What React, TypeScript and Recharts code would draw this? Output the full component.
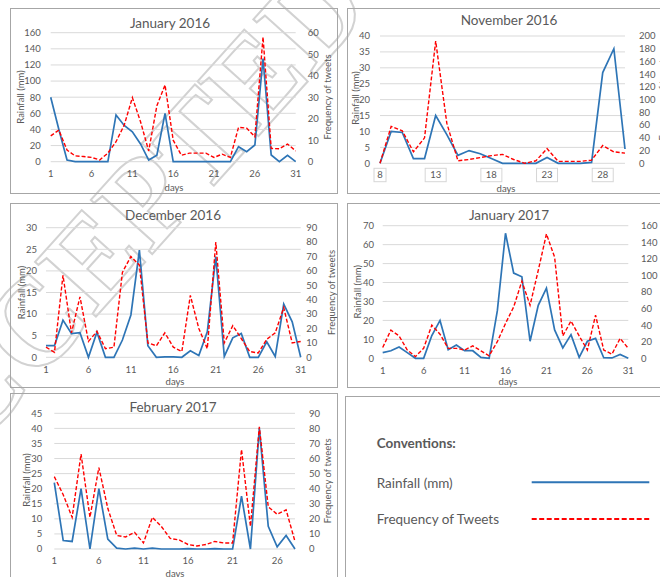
import React from 'react'
import { LineChart, Line, XAxis, YAxis, CartesianGrid } from 'recharts'

const FONT = 'Lato, "Open Sans", "DejaVu Sans", sans-serif'
const TEXT = '#595959'
const GRID = '#d9d9d9'
const BORDER = '#a6a6a6'
const BLUE = '#2e75b6'
const RED = '#ff0000'

// day numbers used as the x categories
const dayRange = (from: number, to: number) =>
  Array.from({ length: to - from + 1 }, (_, i) => from + i)

// January 2016
const jan16Days = dayRange(1, 31)
const jan16Rain = [80, 40, 2, 0, 0, 0, 0, 0, 58, 45, 37, 22, 2, 8, 60, 0, 0, 0, 0, 0, 0, 0, 0, 18.6, 12.4, 20.7, 128, 8.3, 0, 8, 0]
const jan16Tweets = [12, 14.7, 5.4, 2.7, 2.4, 2, 0.8, 4, 9.3, 17, 29.8, 18.6, 5, 26, 35.7, 10, 3, 4, 4, 4, 2, 3.5, 2, 16, 15.6, 11.6, 58, 6.2, 6, 8.2, 5]

// November 2016 (days 8 - 30)
const nov16Days = dayRange(8, 30)
const nov16Rain = [0, 10, 9.7, 1.5, 1.5, 15, 9, 2.5, 4, 3, 1.5, 0, 0, 0, 0, 1.8, 0, 0, 0, 0.3, 28.5, 36, 4.5]
const nov16Tweets = [0, 58, 51, 18, 40, 192, 63, 4, 6, 9, 12, 14, 6, 0, 4, 23, 3, 3, 3, 5, 28, 18, 16]

// December 2016
const dec16Days = dayRange(1, 31)
const dec16Rain = [2.7, 2.7, 8.6, 5.5, 5.7, 0, 5.8, 0, 0, 4, 9.8, 24.8, 2.7, 0, 0.1, 0.1, 0, 1.5, 0.4, 5.9, 23.3, 0.2, 4.5, 5.5, 0, 0, 3.6, 0.2, 12.3, 8.2, 0]
const dec16Tweets = [7, 3.5, 57, 17, 42, 11, 18, 6, 7, 59, 70, 64, 10, 8, 17, 7, 4, 43, 20, 6, 80, 10, 22, 13, 4, 3, 12.5, 17, 34.5, 10, 11]

// January 2017
const jan17Days = dayRange(1, 31)
const jan17Rain = [3, 4, 6, 3, 0, 0, 12, 20, 4.5, 7, 4, 4, 0.5, 0, 25, 66, 45, 43, 9, 28, 37, 15, 5.5, 12.5, 0.5, 9, 10.5, 0.3, 0.2, 2, 0]
const jan17Tweets = [13, 34, 27, 10, 2, 12, 40, 29, 12, 12, 10, 15, 9, 3, 20, 42, 62, 93, 64, 106, 150, 122, 27, 45, 27, 10, 52, 10, 5, 24, 12]

// February 2017
const feb17Days = dayRange(1, 28)
const feb17Rain = [22, 2.8, 2.5, 20, 0, 20, 3.3, 0.3, 0, 0.3, 0, 0.3, 0, 0, 0, 0.1, 0, 0, 0.1, 0, 0, 17.5, 0, 40, 7.5, 0.7, 4.5, 0]
const feb17Tweets = [48, 36, 21, 63, 21, 54, 27, 9, 8, 11, 4, 21, 15, 7, 6, 3, 2, 3, 5, 4, 4, 66, 15, 81, 28, 23, 26, 5]

// axis ticks
const monthTicks = [1, 6, 11, 16, 21, 26, 31]
const novTicks = [8, 13, 18, 23, 28]
const febTicks = [1, 6, 11, 16, 21, 26]
const jan16RainTicks = [0, 20, 40, 60, 80, 100, 120, 140, 160]
const jan16TweetTicks = [0, 10, 20, 30, 40, 50, 60]
const nov16RainTicks = [0, 5, 10, 15, 20, 25, 30, 35, 40]
const nov16TweetTicks = [0, 20, 40, 60, 80, 100, 120, 140, 160, 180, 200]
const dec16RainTicks = [0, 5, 10, 15, 20, 25, 30]
const dec16TweetTicks = [0, 10, 20, 30, 40, 50, 60, 70, 80, 90]
const jan17RainTicks = [0, 10, 20, 30, 40, 50, 60, 70]
const jan17TweetTicks = [0, 20, 40, 60, 80, 100, 120, 140, 160]
const feb17RainTicks = [0, 5, 10, 15, 20, 25, 30, 35, 40, 45]
const feb17TweetTicks = [0, 10, 20, 30, 40, 50, 60, 70, 80, 90]

type Box = { x: number; y: number; w: number; h: number }
type Plot = { left: number; right: number; top: number; bottom: number }
type Pt = [number, number]

interface PanelProps {
  title: string
  days: number[]
  rain: number[]
  tweets: number[]
  xTicks: number[]
  rainTicks: number[]
  tweetTicks: number[]
  box: Box
  plot: Plot
  gaps: { left: number; right: number; x: number }
  titleAt: Pt
  leftLabelAt: Pt
  rightLabelAt?: Pt
  daysAt: Pt
  boxedTicks?: boolean
}

const tickStyle = { fill: TEXT, fontSize: 9.5, fontFamily: FONT }

// Nov 2016 has its day labels drawn inside little frames
const BoxedTick = ({ x, y, payload }: any) => {
  const label = String(payload.value)
  const w = label.length * 9 + 3
  return (
    <g>
      <rect x={x - w / 2} y={y - 3.2} width={w} height={13.4} fill="none" stroke="#d6d6d6" />
      <text x={x} y={y} dy="0.71em" textAnchor="middle" {...tickStyle}>
        {label}
      </text>
    </g>
  )
}

function Panel(p: PanelProps) {
  const data = p.days.map((d, i) => ({ day: d, rain: p.rain[i], tweets: p.tweets[i] }))
  const { box, plot } = p
  const last = p.rainTicks[p.rainTicks.length - 1]
  const lastT = p.tweetTicks[p.tweetTicks.length - 1]
  return (
    <div
      style={{
        position: 'absolute',
        left: box.x,
        top: box.y,
        width: box.w,
        height: box.h,
        border: `1px solid ${BORDER}`,
        boxSizing: 'border-box',
      }}
    >
      <div style={{ position: 'absolute', left: -1, top: -1 }}>
        <LineChart
          width={box.w}
          height={box.h}
          data={data}
          margin={{ top: plot.top - box.y, right: 0, bottom: 0, left: 0 }}
        >
          <CartesianGrid vertical={false} stroke={GRID} />
          <XAxis
            dataKey="day"
            type="number"
            domain={[p.days[0], p.days[p.days.length - 1]]}
            ticks={p.xTicks}
            interval={0}
            height={box.y + box.h - plot.bottom}
            axisLine={false}
            tickLine={false}
            tickSize={0}
            tickMargin={p.gaps.x}
            tick={p.boxedTicks ? <BoxedTick /> : tickStyle}
          />
          <YAxis
            domain={[0, last]}
            ticks={p.rainTicks}
            interval={0}
            width={plot.left - box.x}
            axisLine={false}
            tickLine={false}
            tickSize={0}
            tickMargin={p.gaps.left}
            tick={tickStyle}
          />
          <YAxis
            yAxisId="r"
            orientation="right"
            domain={[0, lastT]}
            ticks={p.tweetTicks}
            interval={0}
            width={box.x + box.w - plot.right}
            axisLine={false}
            tickLine={false}
            tickSize={0}
            tickMargin={p.gaps.right}
            tick={{ ...tickStyle, textAnchor: 'start' }}
          />
          <Line
            dataKey="rain"
            stroke={BLUE}
            strokeWidth={1.7}
            dot={false}
            isAnimationActive={false}
          />
          <Line
            dataKey="tweets"
            yAxisId="r"
            stroke={RED}
            strokeWidth={1.4}
            strokeDasharray="4 2"
            dot={false}
            isAnimationActive={false}
          />
        </LineChart>
      </div>
    </div>
  )
}

function PanelText(p: PanelProps) {
  const axisText = { fill: TEXT, fontSize: 9.5, fontFamily: FONT, textAnchor: 'middle' as const, dominantBaseline: 'central' as const }
  return (
    <g>
      <text x={p.titleAt[0]} y={p.titleAt[1]} fontSize={13.5} fill={TEXT} fontFamily={FONT} textAnchor="middle" dominantBaseline="central">
        {p.title}
      </text>
      <text x={p.leftLabelAt[0]} y={p.leftLabelAt[1]} transform={`rotate(-90 ${p.leftLabelAt[0]} ${p.leftLabelAt[1]})`} {...axisText}>
        Rainfall (mm)
      </text>
      {p.rightLabelAt && (
        <text x={p.rightLabelAt[0]} y={p.rightLabelAt[1]} transform={`rotate(-90 ${p.rightLabelAt[0]} ${p.rightLabelAt[1]})`} {...axisText}>
          Frequency of tweets
        </text>
      )}
      <text x={p.daysAt[0]} y={p.daysAt[1]} {...axisText}>
        days
      </text>
    </g>
  )
}

const panels: PanelProps[] = [
  {
    title: 'January 2016',
    days: jan16Days,
    rain: jan16Rain,
    tweets: jan16Tweets,
    xTicks: monthTicks,
    rainTicks: jan16RainTicks,
    tweetTicks: jan16TweetTicks,
    box: { x: 10, y: 8, w: 328, h: 186 },
    plot: { left: 50.7, right: 295.7, top: 32.7, bottom: 161.7 },
    gaps: { left: 10, right: 12, x: 8.8 },
    titleAt: [170, 22.7],
    leftLabelAt: [20, 97],
    rightLabelAt: [327, 97],
    daysAt: [174, 187.5],
  },
  {
    title: 'November 2016',
    days: nov16Days,
    rain: nov16Rain,
    tweets: nov16Tweets,
    xTicks: novTicks,
    rainTicks: nov16RainTicks,
    tweetTicks: nov16TweetTicks,
    box: { x: 347, y: 8, w: 340, h: 186 },
    plot: { left: 380, right: 625, top: 36, bottom: 163.3 },
    gaps: { left: 10, right: 14, x: 8.2 },
    titleAt: [509, 20],
    leftLabelAt: [355.7, 98],
    rightLabelAt: [662, 98],
    daysAt: [506, 188],
    boxedTicks: true,
  },
  {
    title: 'December 2016',
    days: dec16Days,
    rain: dec16Rain,
    tweets: dec16Tweets,
    xTicks: monthTicks,
    rainTicks: dec16RainTicks,
    tweetTicks: dec16TweetTicks,
    box: { x: 10, y: 203, w: 328, h: 185 },
    plot: { left: 46, right: 300.7, top: 227.7, bottom: 357.3 },
    gaps: { left: 9, right: 5.5, x: 9.4 },
    titleAt: [173, 215],
    leftLabelAt: [21.7, 292.5],
    rightLabelAt: [331, 292.5],
    daysAt: [175, 381.5],
  },
  {
    title: 'January 2017',
    days: jan17Days,
    rain: jan17Rain,
    tweets: jan17Tweets,
    xTicks: monthTicks,
    rainTicks: jan17RainTicks,
    tweetTicks: jan17TweetTicks,
    box: { x: 347, y: 203, w: 340, h: 185 },
    plot: { left: 382.7, right: 628.3, top: 225.7, bottom: 358.3 },
    gaps: { left: 8.7, right: 12.7, x: 9.2 },
    titleAt: [509, 215],
    leftLabelAt: [357.7, 291.7],
    daysAt: [508, 381],
  },
  {
    title: 'February 2017',
    days: feb17Days,
    rain: feb17Rain,
    tweets: feb17Tweets,
    xTicks: febTicks,
    rainTicks: feb17RainTicks,
    tweetTicks: feb17TweetTicks,
    box: { x: 10, y: 393, w: 328, h: 200 },
    plot: { left: 54.3, right: 295, top: 413.3, bottom: 549 },
    gaps: { left: 12, right: 14, x: 8.2 },
    titleAt: [173, 407],
    leftLabelAt: [26, 480],
    rightLabelAt: [328, 480.8],
    daysAt: [175, 573.5],
  },
]

export default function App() {
  return (
    <div
      style={{
        position: 'absolute',
        left: 0,
        top: 0,
        width: 660,
        height: 577,
        overflow: 'hidden',
        background: '#fff',
        fontFamily: FONT,
      }}
    >
      {/* watermark behind everything */}
      <svg width={660} height={577} style={{ position: 'absolute', left: 0, top: 0 }}>
        <text
          x={112}
          y={236}
          transform="rotate(-48 112 236)"
          textAnchor="middle"
          dominantBaseline="central"
          fontSize={125}
          fontWeight="bold"
          fontFamily='"Liberation Serif", serif'
          fill="none"
          stroke="#d2d2d2"
          strokeWidth={2}
        >
          ACCEPTED
        </text>
      </svg>

      {panels.map((p) => (
        <Panel key={p.title} {...p} />
      ))}

      {/* conventions box */}
      <div
        style={{
          position: 'absolute',
          left: 345,
          top: 396,
          width: 340,
          height: 200,
          border: `1px solid ${BORDER}`,
          boxSizing: 'border-box',
        }}
      />

      <svg width={660} height={577} style={{ position: 'absolute', left: 0, top: 0, pointerEvents: 'none' }}>
        {panels.map((p) => (
          <PanelText key={p.title} {...p} />
        ))}
        <text x={376.7} y={443} fontSize={13.5} fontWeight="bold" fill={TEXT} fontFamily={FONT} dominantBaseline="central">
          Conventions:
        </text>
        <text x={376.7} y={482.7} fontSize={13.5} fill={TEXT} fontFamily={FONT} dominantBaseline="central">
          Rainfall (mm)
        </text>
        <text x={376.7} y={519} fontSize={13.5} fill={TEXT} fontFamily={FONT} dominantBaseline="central">
          Frequency of Tweets
        </text>
        <line x1={531.7} x2={649.3} y1={482.3} y2={482.3} stroke={BLUE} strokeWidth={2} />
        <line x1={531.7} x2={649.3} y1={519} y2={519} stroke={RED} strokeWidth={2} strokeDasharray="5 2.5" />
      </svg>
    </div>
  )
}
